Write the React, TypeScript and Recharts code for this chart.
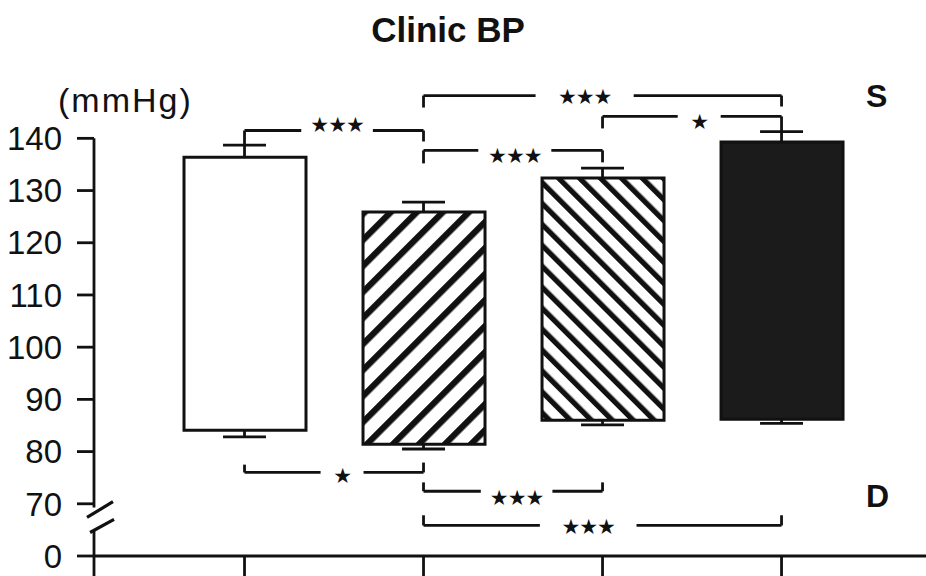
import React from 'react';
import {
  ComposedChart,
  Bar,
  Cell,
  XAxis,
  YAxis,
  ReferenceLine,
  ReferenceDot,
} from 'recharts';

// four groups, each bar spans diastolic (bottom) to systolic (top), mmHg
const groups = [1, 2, 3, 4];
const systolic = [136.4, 125.9, 132.4, 139.3];
const systolicSD = [2.3, 1.9, 1.9, 2.0];
const diastolic = [84.1, 81.4, 86.0, 86.2];
const diastolicSD = [1.3, 0.9, 0.9, 0.8];
const fills = ['#ffffff', 'url(#hatchUp)', 'url(#hatchDown)', '#1b1b1b'];

// the "0" tick sits one step under 70, past the axis break
const yTicks = [60, 70, 80, 90, 100, 110, 120, 130, 140];
const yTickLabel = (v: number) => (v === 60 ? '0' : String(v));

// significance brackets: S above the bars, D below
const brackets = [
  { from: 1, to: 2, level: 141.5, endFrom: 138.7, endTo: 139.4, mark: '***', at: 1.517, gap: 0.2, markY: 142.5 },
  { from: 2, to: 4, level: 148.2, endFrom: 145.9, endTo: 146.1, mark: '***', at: 2.9, gap: 0.274, markY: 147.9 },
  { from: 2, to: 3, level: 137.7, endFrom: 135.2, endTo: 135.4, mark: '***', at: 2.51, gap: 0.204, markY: 136.6 },
  { from: 3, to: 4, level: 144.2, endFrom: 141.9, endTo: 141.3, mark: '*', at: 3.54, gap: 0.12, markY: 143.1 },
  { from: 1, to: 2, level: 76.0, endFrom: 77.5, endTo: 77.9, mark: '*', at: 1.545, gap: 0.12, markY: 75.4 },
  { from: 2, to: 3, level: 72.4, endFrom: 74.1, endTo: 74.1, mark: '***', at: 2.52, gap: 0.2, markY: 71.2 },
  { from: 2, to: 4, level: 65.85, endFrom: 67.8, endTo: 67.8, mark: '***', at: 2.92, gap: 0.27, markY: 65.5 },
];

const data = groups.map((g, i) => ({ x: g, range: [diastolic[i], systolic[i]] }));

const X_MIN = 0.1592;
const X_MAX = 4.807;
const Y_MIN = 60;
const Y_MAX = 166.5;
const CAP = 0.12;
const INK = '#111';
const LW = 2.8;
const FONT = '"Liberation Sans", Arial, Helvetica, sans-serif';

const seg = (x1: number, y1: number, x2: number, y2: number, key: string, w = LW) => (
  <ReferenceLine
    key={key}
    segment={[{ x: x1, y: y1 }, { x: x2, y: y2 }]}
    stroke={INK}
    strokeWidth={w}
    ifOverflow="visible"
  />
);

const Stars = (props: any) => {
  const { cx, cy, text } = props;
  return (
    <text
      x={cx}
      y={cy}
      textAnchor="middle"
      dominantBaseline="central"
      fontFamily='"DejaVu Sans", sans-serif'
      fontSize={21}
      letterSpacing={-1}
      fill={INK}
    >
      {text}
    </text>
  );
};

export default function App() {
  const errorBars = groups.flatMap((g, i) => {
    const top = systolic[i] + systolicSD[i];
    const bottom = diastolic[i] - diastolicSD[i];
    return [
      seg(g, systolic[i], g, top, `st${i}`),
      seg(g - CAP, top, g + CAP, top, `ct${i}`),
      seg(g, diastolic[i], g, bottom, `sb${i}`),
      seg(g - CAP, bottom, g + CAP, bottom, `cb${i}`),
    ];
  });

  const bracketLines = brackets.flatMap((b, i) => [
    seg(b.from, b.endFrom, b.from, b.level, `bl${i}`),
    seg(b.to, b.endTo, b.to, b.level, `br${i}`),
    seg(b.from, b.level, b.at - b.gap, b.level, `bh1${i}`),
    seg(b.at + b.gap, b.level, b.to, b.level, `bh2${i}`),
  ]);

  const bracketMarks = brackets.map((b, i) => (
    <ReferenceDot
      key={`m${i}`}
      x={b.at}
      y={b.markY}
      r={0}
      ifOverflow="visible"
      shape={(p: any) => <Stars {...p} text={b.mark.replace(/\*/g, '\u2605')} />}
    />
  ));

  // y axis drawn in two pieces around the break, plus the two slashes
  const axisPieces = [
    seg(X_MIN, 140, X_MIN, 69.3, 'ya1'),
    seg(X_MIN, 64.9, X_MIN, Y_MIN, 'ya2'),
    seg(X_MIN - 0.039, 67.4, X_MIN + 0.106, 70.4, 'brk1', 3.2),
    seg(X_MIN - 0.022, 64.5, X_MIN + 0.112, 67.0, 'brk2', 3.2),
  ];

  return (
    <div style={{ position: 'absolute', left: 0, top: 0, width: 926, height: 576, background: '#fff' }}>
      <ComposedChart
        width={926}
        height={576}
        data={data}
        margin={{ top: 0, right: 0, bottom: 0, left: 0 }}
      >
        <defs>
          <pattern id="hatchUp" patternUnits="userSpaceOnUse" width={18.4} height={18.4} patternTransform="rotate(45)">
            <rect width={18.4} height={18.4} fill="#fff" />
            <rect width={6.3} height={18.4} fill={INK} />
          </pattern>
          <pattern id="hatchDown" patternUnits="userSpaceOnUse" width={14.8} height={14.8} patternTransform="rotate(-45)">
            <rect width={14.8} height={14.8} fill="#fff" />
            <rect width={5.3} height={14.8} fill={INK} />
          </pattern>
        </defs>
        <XAxis
          dataKey="x"
          type="number"
          domain={[X_MIN, X_MAX]}
          allowDataOverflow
          ticks={[X_MIN, ...groups]}
          tickFormatter={() => ''}
          tickSize={20}
          height={20}
          axisLine={{ stroke: INK, strokeWidth: LW }}
          tickLine={{ stroke: INK, strokeWidth: LW }}
        />
        <YAxis
          type="number"
          domain={[Y_MIN, Y_MAX]}
          allowDataOverflow
          ticks={yTicks}
          tickFormatter={yTickLabel}
          width={94}
          tickSize={17}
          tickMargin={15}
          axisLine={false}
          tickLine={{ stroke: INK, strokeWidth: LW }}
          tick={{ fontSize: 33, fontFamily: FONT, fill: INK }}
        />
        <Bar dataKey="range" barSize={122} isAnimationActive={false}>
          {data.map((d, i) => (
            <Cell key={d.x} fill={fills[i]} stroke={INK} strokeWidth={3} />
          ))}
        </Bar>
        {errorBars}
        {bracketLines}
        {bracketMarks}
        {axisPieces}
      </ComposedChart>
      <svg
        width={926}
        height={576}
        style={{ position: 'absolute', left: 0, top: 0, pointerEvents: 'none' }}
      >
        <text x={448} y={42} textAnchor="middle" fontFamily={FONT} fontWeight="bold" fontSize={35} fill={INK}>
          Clinic BP
        </text>
        <text x={58} y={112} fontFamily={FONT} fontSize={34} letterSpacing={2} fill={INK}>
          (mmHg)
        </text>
        <text x={866} y={107} fontFamily={FONT} fontWeight="bold" fontSize={32} fill={INK}>
          S
        </text>
        <text x={866} y={507} fontFamily={FONT} fontWeight="bold" fontSize={32} fill={INK}>
          D
        </text>
      </svg>
    </div>
  );
}
